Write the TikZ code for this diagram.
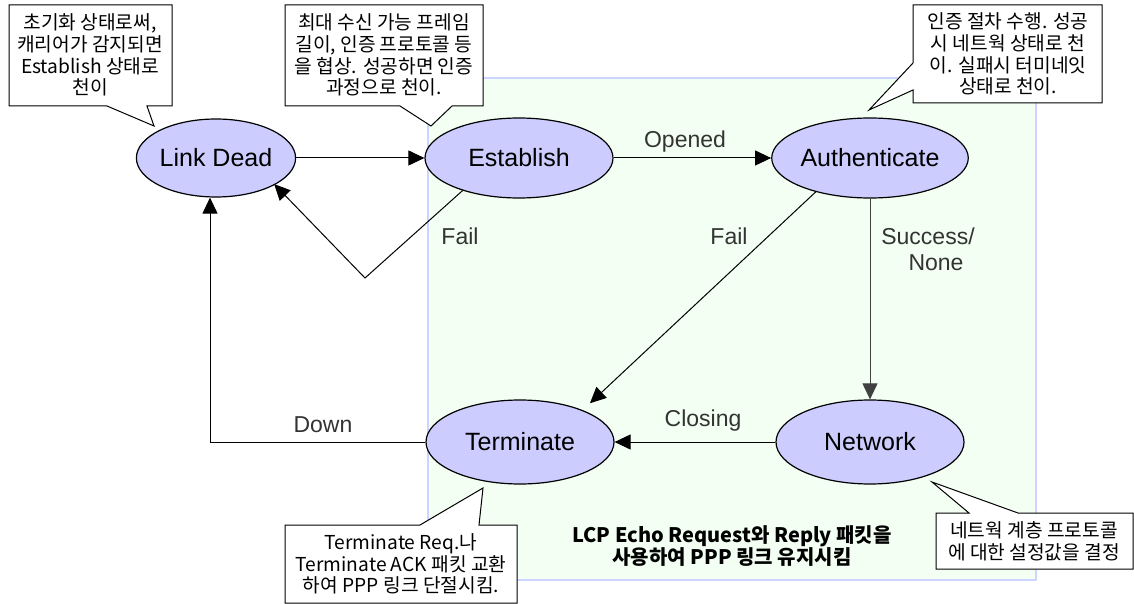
\documentclass[tikz,border=0pt]{standalone}
\usepackage{fontspec}
\setmainfont{Liberation Sans}
\newfontfamily\krfont{Noto Sans CJK KR}
\usetikzlibrary{arrows.meta,shapes.geometric}
\definecolor{stfill}{RGB}{204,204,255}
\definecolor{linkbg}{RGB}{242,255,242}
\definecolor{linkedge}{RGB}{204,212,255}
\tikzset{
  state/.style={draw, ellipse, fill=stfill, line width=0.6pt, minimum width=94pt, minimum height=40pt, inner sep=0pt, font=\fontsize{12.5}{14}\selectfont},
  edge/.style={-{Triangle[length=8pt,width=7.5pt]}, line width=0.5pt},
  lbl/.style={font=\fontsize{11.5}{13}\selectfont, text=black!80, align=center},
  note/.style={align=center, font=\krfont\fontsize{9.6}{10.9}\selectfont, inner sep=0pt},
  noteline/.style={draw, fill=white, line width=0.5pt}
}
\begin{document}
\begin{tikzpicture}[x=0.5pt,y=-0.5pt]
  \useasboundingbox (0,0) rectangle (1134,604);

  % link established area
  \path[draw=linkedge, fill=linkbg, line width=0.6pt] (428,78) rectangle (1036,580);
  \node[font=\krfont\bfseries\fontsize{10}{11}\selectfont, align=center] (keepalive) at (732,546)
    {LCP Echo Request와 Reply 패킷을\\사용하여 PPP 링크 유지시킴};

  % callouts
  \draw[noteline] (9,5) -- (172,5) -- (172,106) -- (147,106) -- (154,126) -- (107,106) -- (9,106) -- cycle;
  \node[note] (noteDead) at (90,55) {초기화 상태로써,\\캐리어가 감지되면\\Establish 상태로\\천이};

  \draw[noteline] (285,5) -- (483,5) -- (483,106) -- (452,106) -- (431,126) -- (400,106) -- (285,106) -- cycle;
  \node[note] (noteEst) at (384,55) {최대 수신 가능 프레임\\길이, 인증 프로토콜 등\\을 협상. 성공하면 인증\\과정으로 천이.};

  \draw[noteline] (913,5) -- (1102,5) -- (1102,103) -- (913,103) -- (913,90) -- (869,110) -- (913,63) -- cycle;
  \node[note] (noteAuth) at (1008,54) {인증 절차 수행. 성공\\시 네트웍 상태로 천\\이. 실패시 터미네잇\\상태로 천이.};

  \draw[noteline] (285,525) -- (420,525) -- (483,488) -- (479,525) -- (517,525) -- (517,603) -- (285,603) -- cycle;
  \node[note] (noteTerm) at (401,564) {Terminate Req.나\\Terminate ACK 패킷 교환\\하여 PPP 링크 단절시킴.};

  \draw[noteline] (936,513) -- (969,513) -- (932,482) -- (1018,513) -- (1133,513) -- (1133,569) -- (936,569) -- cycle;
  \node[note] (noteNet) at (1034,541) {네트웍 계층 프로토콜\\에 대한 설정값을 결정};

  % states
  \node[state, minimum width=74pt, minimum height=39pt] (LinkDead) at (216,158) {Link Dead};
  \node[state] (Establish) at (519,158) {Establish};
  \node[state] (Authenticate) at (870,158) {Authenticate};
  \node[state, minimum height=42pt] (Network) at (870,442) {Network};
  \node[state, minimum height=42pt] (Terminate) at (520,442) {Terminate};

  % transitions
  \coordinate (failbend) at (365,278);
  \draw[edge] (LinkDead.east) -- (Establish.west);
  \draw[edge] (Establish.east) -- (Authenticate.west);
  \draw[edge] (Establish.210) -- (failbend) -- ([shift={(3pt,2pt)}]LinkDead.-30);
  \draw[edge, shorten >=5pt] (Authenticate.212) -- (Terminate.27);
  \draw[edge, black!75] (Authenticate.south) -- (Network.north);
  \draw[edge] (Network.west) -- (Terminate.east);
  \draw[edge] (Terminate.west) -| ([xshift=-3pt]LinkDead.south);

  \node[lbl] (lopened) at (685,142) {Opened};
  \node[lbl] (lfailest) at (460,236) {Fail};
  \node[lbl] (lfailauth) at (729,236) {Fail};
  \node[lbl] (lsuccess) at (928,249) {Success/\\\hspace*{8pt}None};
  \node[lbl] (ldown) at (323,425) {Down};
  \node[lbl] (lclosing) at (703,421) {Closing};
\end{tikzpicture}
\end{document}
